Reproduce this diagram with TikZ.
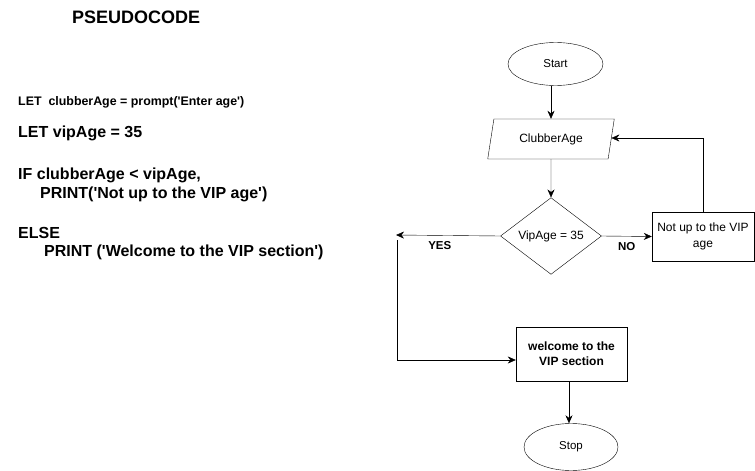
\documentclass[tikz,border=0pt]{standalone}
\usepackage{fontspec}
\newfontfamily\arial{Liberation Sans}
\usetikzlibrary{shapes.geometric,arrows.meta}

\begin{document}
\begin{tikzpicture}[x=1pt,y=-1pt,
        startstop/.style={ellipse,draw,minimum width=95pt,minimum height=43pt,inner sep=0pt,font=\arial\fontsize{11.5}{13}\selectfont},
        inout/.style={trapezium,trapezium left angle=73,trapezium right angle=107,trapezium stretches=true,draw,minimum width=127pt,minimum height=40pt,inner sep=0pt,font=\arial\fontsize{12}{14}\selectfont},
        decision/.style={diamond,draw,minimum width=101pt,minimum height=72pt,inner sep=0pt,font=\arial\fontsize{12}{14}\selectfont},
        process/.style={rectangle,draw,align=center,inner sep=0pt,font=\arial\fontsize{12}{15.5}\selectfont},
        flowlabel/.style={font=\arial\bfseries\fontsize{11.5}{13}\selectfont},
        codeline/.style={anchor=west,inner sep=0pt,font=\arial\bfseries\fontsize{16}{18}\selectfont},
        flow/.style={-{Stealth[length=8pt,width=7pt]}}]
    \useasboundingbox (0,0) rectangle (755,471);
    % pseudocode
    \node[codeline,font=\arial\bfseries\fontsize{18}{20}\selectfont] (title) at (72,17) {PSEUDOCODE};
    \node[codeline,font=\arial\bfseries\fontsize{12.4}{14}\selectfont] (code1) at (18,102) {LET\ \ clubberAge = prompt('Enter age')};
    \node[codeline] (code2) at (18,133) {LET vipAge = 35};
    \node[codeline] (code3) at (18,175) {IF clubberAge < vipAge,};
    \node[codeline] (code4) at (40,194) {PRINT('Not up to the VIP age')};
    \node[codeline] (code5) at (18,233) {ELSE};
    \node[codeline] (code6) at (44,252) {PRINT ('Welcome to the VIP section')};
    % flowchart
    \node[startstop] (start) at (555.5,64) {Start};
    \node[inout] (age) at (551,139) {ClubberAge};
    \node[decision] (vip) at (551,236) {VipAge = 35};
    \node[process,minimum width=102pt,minimum height=49pt] (notup) at (703,236.5) {Not up to the VIP\\age};
    \node[process,font=\arial\bfseries\fontsize{12}{15}\selectfont,minimum width=111pt,minimum height=54pt] (welcome) at (571.5,354) {welcome to the\\VIP section};
    \node[startstop,minimum width=94pt,minimum height=47pt] (stop) at (571,447) {Stop};
    \coordinate (yesend) at (396,235);
    \coordinate (yescorner) at (397,360);
    \draw[flow] (start.south -| 551,0) -- (age.north -| 551,0);
    \draw[flow] (age.south) -- (vip.north);
    \draw[flow] (vip.east) -- node[flowlabel,below=3pt] {NO} (notup.west);
    \draw[flow] (notup.north) |- (age.east |- 0,138);
    \draw[flow] (vip.west) -- node[flowlabel,below=3pt,pos=0.58] {YES} (yesend);
    \draw[flow] (yescorner |- 0,240) -- (yescorner) -- (welcome.west |- yescorner);
    \draw[flow] (welcome.south -| 569,0) -- (stop.north -| 569,0);
\end{tikzpicture}
\end{document}
